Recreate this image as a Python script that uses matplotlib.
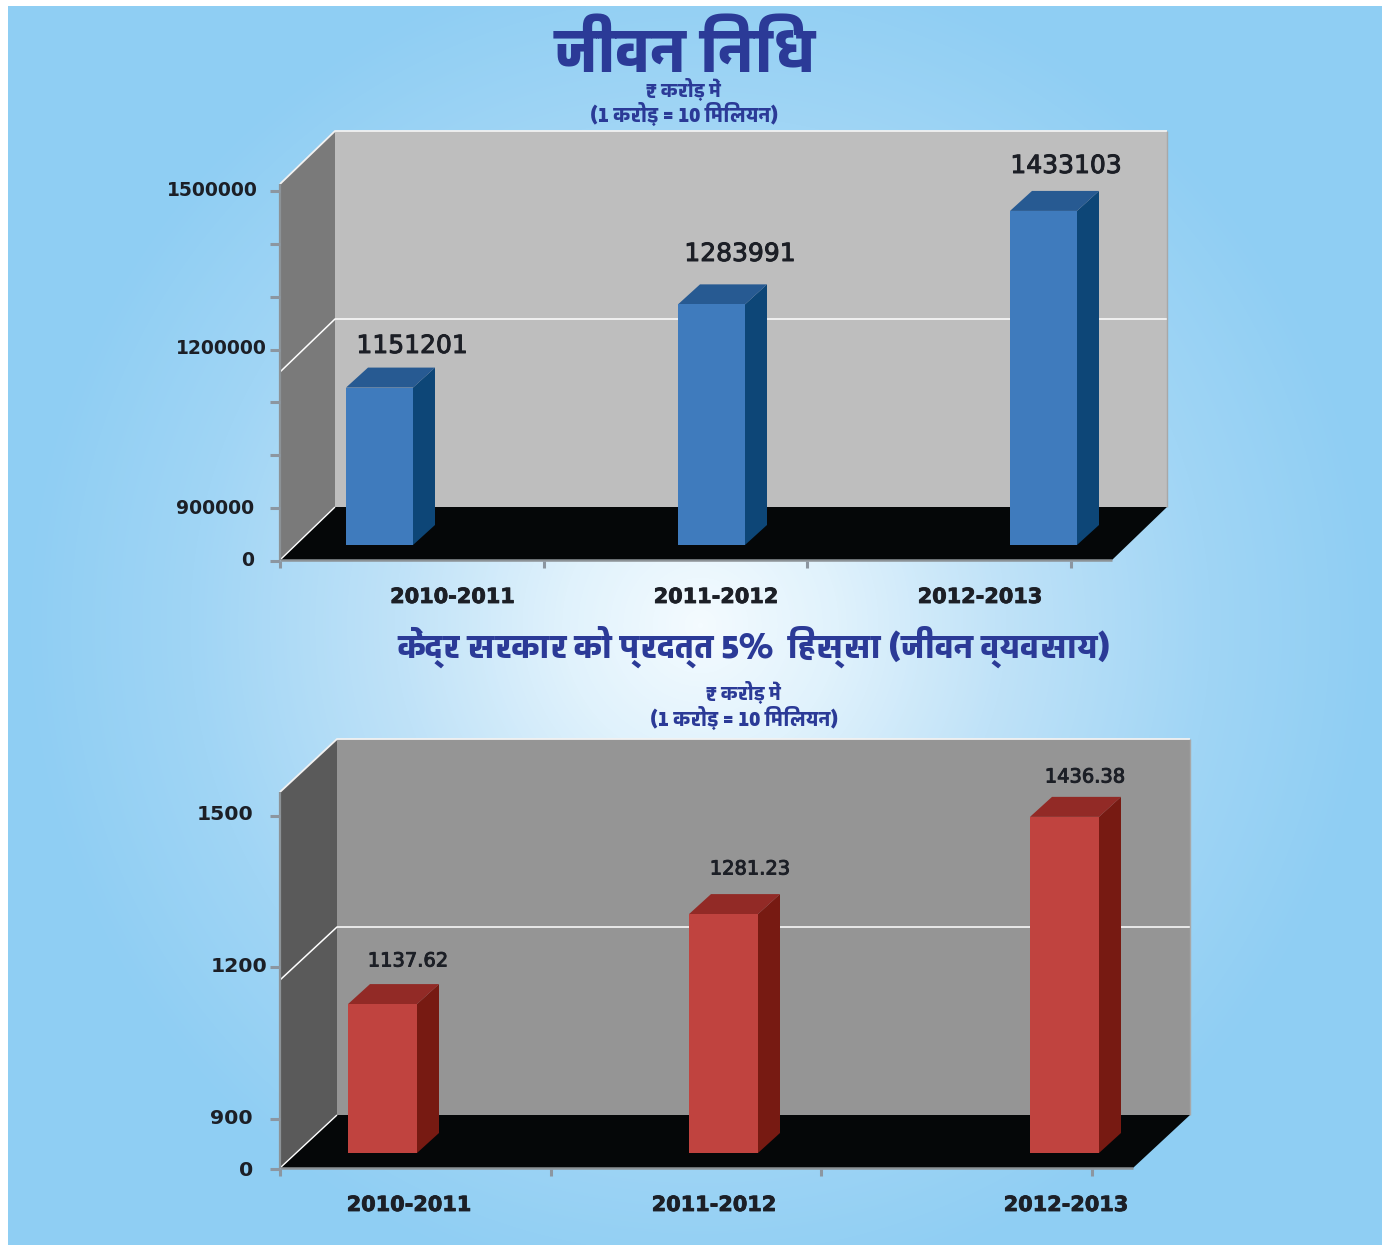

import re
import numpy as np
import matplotlib
matplotlib.use('Agg')
import matplotlib.pyplot as plt
import matplotlib.patheffects as pe
from matplotlib.patches import Polygon
from matplotlib.text import Text
from matplotlib.transforms import IdentityTransform
from matplotlib.colors import LinearSegmentedColormap

# ---------- data ----------
categories = ['2010-2011', '2011-2012', '2012-2013']
fund_values = [1151201, 1283991, 1433103]
share_values = [1137.62, 1281.23, 1436.38]
fund_value_labels = ['1151201', '1283991', '1433103']
share_value_labels = ['1137.62', '1281.23', '1436.38']
fund_y_labels = ['0', '900000', '1200000', '1500000']
share_y_labels = ['0', '900', '1200', '1500']
fund_title = 'जीवन निधि'
share_title = 'केंद्र सरकार को प्रदत्त 5%  हिस्सा (जीवन व्यवसाय)'
unit_line = '₹ करोड़ में'
scale_line = '(1 करोड़ = 10 मिलियन)'

W, H = 1382, 1247
DEVA = ['Biryani', 'Hind', 'Mukta', 'Noto Sans Devanagari', 'DejaVu Sans']
NAVY = '#2B3A97'
INK = '#1c1f26'

fig = plt.figure(figsize=(W / 100, H / 100), dpi=100, facecolor='white')


def box(l, t, r, b):
    """Figure fraction rectangle from pixel edges (y from the top)."""
    return [l / W, 1 - b / H, (r - l) / W, (b - t) / H]


# ---------- background ----------
bg = fig.add_axes(box(8, 6, 1382, 1245))
bg.set_axis_off()
yy, xx = np.mgrid[6:1245, 8:1382]
rr = np.hypot(xx - 700, yy - 625)
cmap = LinearSegmentedColormap.from_list(
    'halo', [(0, '#F4FBFF'), (0.2, '#E0F2FC'), (0.45, '#BFE2F8'), (0.75, '#A0D5F5'), (1, '#8FCEF3')])
bg.imshow(np.clip(rr / 680, 0, 1), cmap=cmap, vmin=0, vmax=1, aspect='auto')


class DevaText(Text):
    """Keeps logical Unicode; paints the i-matra before its consonant (no shaping engine here)."""

    def draw(self, renderer):
        logical = self._text
        self._text = re.sub('((?:[क-ह]़?्)*[क-ह]़?)ि', 'ि\\1', logical)
        super().draw(renderer)
        self._text = logical


def deva(x, y, s, size, weight='black'):
    fig.add_artist(DevaText(x / W, 1 - y / H, s, fontsize=size, fontweight=weight, color=NAVY,
                            family=DEVA, ha='center', va='center'))


def panel(values, value_labels, ymin, ymax, front, depth, bar_w, bar_off, bar_depth, spacing,
          first_bar, value_label_pos, wall, side, floor_col, face, top, flank,
          tick_span, tick_top_units, y_ticks, y_labels, y_label_pos, y_label_size, val_size,
          cat_x, cat_y):
    l, t, r, b = front
    dx, dy = depth
    ax = fig.add_axes(box(l, t, r, b))
    ax.set_axis_off()
    x0 = -(first_bar - l) / spacing
    ax.set_xlim(x0, x0 + (r - l) / spacing)
    ax.set_ylim(ymin, ymax)

    def pt(x, y, ox=0, oy=0):
        p = ax.transData.transform((x, y))
        return p[0] + ox, p[1] + oy

    def poly(pts, color, z):
        ax.add_patch(Polygon(pts, closed=True, facecolor=color, edgecolor='none',
                             transform=IdentityTransform(), clip_on=False, zorder=z))

    xa, xb = ax.get_xlim()
    poly([pt(xa, ymin, dx, dy), pt(xb, ymin, dx, dy), pt(xb, ymax, dx, dy), pt(xa, ymax, dx, dy)], wall, 1)
    poly([pt(xa, ymin), pt(xa, ymin, dx, dy), pt(xa, ymax, dx, dy), pt(xa, ymax)], side, 1)
    poly([pt(xa, ymin), pt(xb, ymin), pt(xb, ymin, dx, dy), pt(xa, ymin, dx, dy)], floor_col, 2)

    def edge(pts, color, lw, z=3):
        ax.plot(*zip(*pts), color=color, lw=lw, transform=IdentityTransform(), clip_on=False,
                zorder=z, solid_capstyle='butt')

    mid = (ymin + ymax) / 2
    edge([pt(xa, mid), pt(xa, mid, dx, dy), pt(xb, mid, dx, dy)], 'white', 1.1)
    edge([pt(xa, ymax), pt(xa, ymax, dx, dy), pt(xb, ymax, dx, dy)], '#F2F2F2', 1.3)
    edge([pt(xa, ymin), pt(xa, ymin, dx, dy)], 'white', 1.0)
    edge([pt(xa, ymin), pt(xa, ymax)], '#8C9296', 1.6)
    edge([pt(xa, ymin), pt(xb, ymin)], '#8C9296', 1.8, 4)
    edge([pt(xb, ymin, dx, dy), pt(xb, ymax, dx, dy)], '#A8A8A8', 1.0)

    half = bar_w / spacing / 2
    ox, oy = bar_off
    bx, by = bar_depth
    heavy = [pe.withStroke(linewidth=0.7, foreground=INK)]
    for i, v in enumerate(values):
        la, ra = i - half, i + half
        poly([pt(ra, ymin, ox, oy), pt(ra, ymin, ox + bx, oy + by), pt(ra, v, ox + bx, oy + by), pt(ra, v, ox, oy)], flank, 5)
        poly([pt(la, v, ox, oy), pt(ra, v, ox, oy), pt(ra, v, ox + bx, oy + by), pt(la, v, ox + bx, oy + by)], top, 5)
        poly([pt(la, ymin, ox, oy), pt(ra, ymin, ox, oy), pt(ra, v, ox, oy), pt(la, v, ox, oy)], face, 6)
        lx, ly = value_label_pos[i]
        fig.text(lx / W, 1 - ly / H, value_labels[i], ha='center', va='center',
                 fontsize=val_size, color=INK, zorder=8, path_effects=heavy)

    tx = fig.add_axes(box(l, t, tick_span, b + 1))
    tx.patch.set_alpha(0)
    for s in tx.spines.values():
        s.set_visible(False)
    tx.set_xlim(0, 3)
    tx.set_ylim(0, 1)
    tx.set_xticks([0, 1, 2, 3])
    tx.set_xticklabels([])
    tx.set_yticks([])
    tx.tick_params(axis='x', length=5, width=2.2, color='#8C96A0')

    yx = fig.add_axes(box(l, tick_top_units, l + 1, b + 1))
    yx.patch.set_alpha(0)
    for s in yx.spines.values():
        s.set_visible(False)
    yx.set_ylim(0, 7)
    yx.set_yticks(y_ticks)
    yx.set_yticklabels([])
    yx.set_xticks([])
    yx.tick_params(axis='y', length=7, width=2.2, color='#8C96A0')

    for s, (rx, ry) in zip(y_labels, y_label_pos):
        fig.text(rx / W, 1 - ry / H, s, ha='right', va='center', fontsize=y_label_size,
                 fontweight='bold', color=INK)
    for s, cx in zip(categories, cat_x):
        fig.text(cx / W, 1 - cat_y / H, s, ha='center', va='center', fontsize=15,
                 fontweight='bold', color=INK, path_effects=[pe.withStroke(linewidth=0.6, foreground=INK)])


panel(fund_values, fund_value_labels, 900000, 1500000, (280, 184, 1112, 560), (55, 53),
      67, (15, 15), (22, 20), 332, 364.5,
      [(412, 346), (740, 254), (1066, 166)],
      '#BEBEBE', '#7A7A7A', '#050708', '#3F7BBD', '#275A92', '#0D4677',
      1071, 191, [0, 1, 2, 3, 4, 5, 6, 7], fund_y_labels,
      [(254, 561), (254, 508), (267, 349), (258, 191)], 13.5, 18,
      [452.5, 716, 980], 597)

panel(share_values, share_value_labels, 900, 1500, (280, 792, 1133, 1168), (57, 53),
      69, (14, 15), (22, 20), 341, 368.5,
      [(408, 961), (750, 869), (1085, 777)],
      '#959595', '#5A5A5A', '#050708', '#C0433F', '#922A26', '#771A12',
      1092, 816, [0, 1, 4, 7], share_y_labels,
      [(253, 1170), (253, 1119), (267, 967), (253, 814)], 14.7, 14,
      [409, 714, 1066], 1205)

deva(685, 54, fund_title, 43.5)
deva(684, 89, unit_line, 14)
deva(684, 115, scale_line, 14.4)
deva(754, 647, share_title, 23.7)
deva(744, 692, unit_line, 14)
deva(744, 719, scale_line, 14.4)

fig.savefig('out.png', dpi=100)
